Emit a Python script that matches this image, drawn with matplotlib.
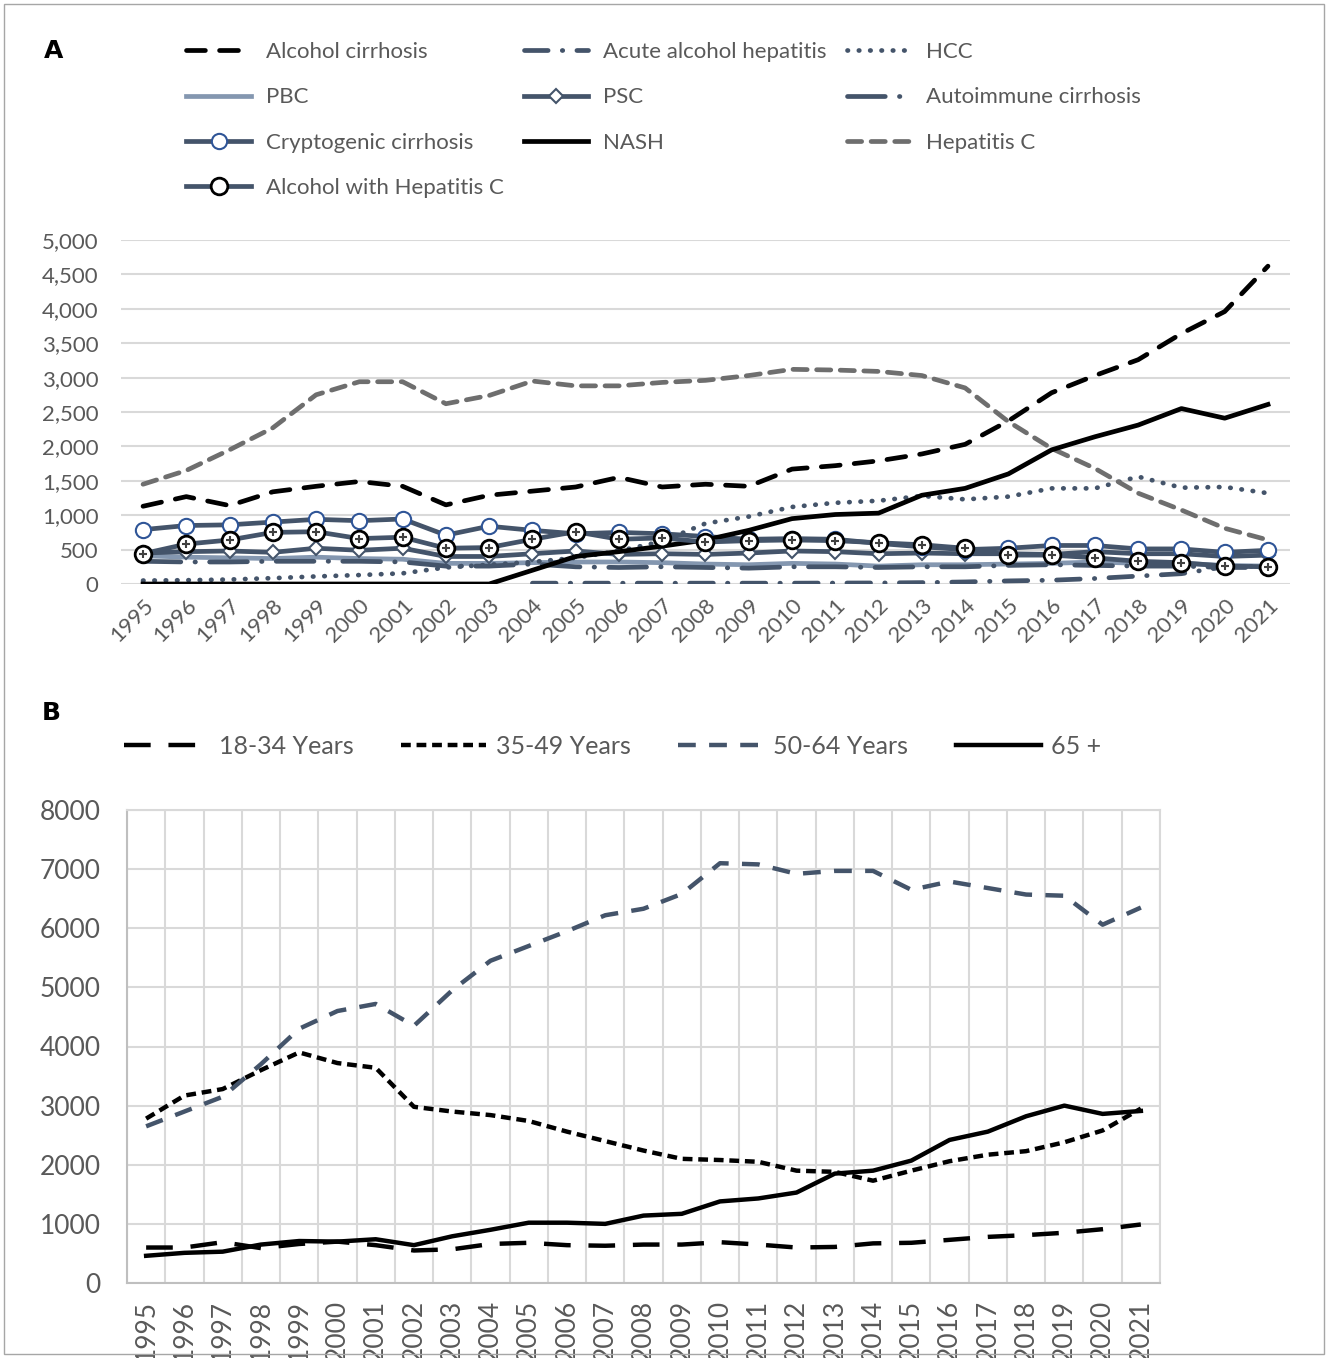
import matplotlib
matplotlib.use("Agg")
import matplotlib.pyplot as plt
import numpy as np
from matplotlib.patches import Rectangle

plt.rcParams['font.family'] = ['Lato', 'DejaVu Sans']

years = list(range(1995, 2022))

# panel A - etiologies
alcohol_cirrhosis = [1130, 1270, 1140, 1340, 1420, 1490, 1420, 1150, 1290, 1350, 1410, 1550, 1410, 1450, 1420,
                     1670, 1720, 1790, 1890, 2030, 2370, 2780, 3030, 3260, 3640, 3960, 4620]
acute_alc_hep = [np.nan] * 9 + [12, 12, 12, 12, 12, 12, 12, 14, 15, 20, 30, 45, 55, 80, 115, 150, 250, 260]
hcc = [50, 55, 65, 85, 110, 130, 155, 240, 280, 320, 380, 480, 620, 880, 980, 1120, 1180, 1210, 1280,
       1230, 1270, 1390, 1390, 1560, 1400, 1410, 1320]
pbc = [410, 390, 380, 370, 390, 370, 360, 300, 300, 310, 320, 320, 310, 290, 280, 300, 290, 260, 280,
       280, 290, 300, 320, 300, 300, 270, 260]
psc = [450, 470, 480, 460, 520, 490, 520, 400, 400, 440, 480, 430, 440, 430, 450, 480, 470, 440, 450,
       440, 440, 430, 470, 440, 440, 400, 420]
autoimmune = [330, 320, 320, 330, 330, 330, 320, 260, 260, 290, 250, 240, 250, 240, 230, 250, 250, 240,
              250, 250, 270, 280, 270, 260, 260, 240, 240]
cryptogenic = [790, 850, 860, 900, 940, 920, 945, 710, 840, 780, 730, 750, 730, 690, 650, 660, 650, 590,
               540, 500, 520, 560, 560, 510, 510, 460, 490]
nash = [0, 0, 0, 0, 0, 0, 0, 0, 0, 200, 400, 470, 550, 640, 780, 950, 1010, 1030, 1290, 1390, 1600, 1950,
        2140, 2310, 2550, 2410, 2610]
hep_c = [1450, 1650, 1950, 2270, 2750, 2940, 2940, 2620, 2740, 2950, 2880, 2880, 2930, 2960, 3030, 3120,
         3110, 3090, 3030, 2850, 2360, 1970, 1680, 1320, 1075, 810, 640]
alc_hep_c = [440, 580, 640, 750, 760, 660, 680, 520, 530, 650, 760, 650, 670, 610, 630, 640, 630, 600,
             570, 520, 420, 420, 380, 330, 310, 260, 250]

# panel B - age groups
age_18_34 = [600, 600, 690, 590, 660, 700, 640, 550, 570, 660, 680, 640, 630, 650, 650, 690, 650, 600,
             610, 670, 680, 730, 780, 810, 850, 910, 990]
age_35_49 = [2780, 3170, 3280, 3600, 3900, 3720, 3640, 2980, 2900, 2840, 2740, 2560, 2400, 2240, 2100,
             2080, 2050, 1900, 1880, 1730, 1900, 2060, 2170, 2230, 2380, 2580, 2950]
age_50_64 = [2650, 2900, 3150, 3700, 4300, 4600, 4720, 4350, 4950, 5450, 5700, 5950, 6220, 6330, 6580,
             7100, 7080, 6920, 6970, 6970, 6650, 6790, 6680, 6570, 6550, 6060, 6350]
age_65 = [460, 510, 530, 650, 710, 700, 740, 640, 790, 900, 1020, 1020, 1000, 1140, 1170, 1380, 1430,
          1530, 1850, 1900, 2070, 2420, 2560, 2820, 3000, 2860, 2910]

slate = '#44546a'
txt = '#595959'
grid = '#d9d9d9'

fig = plt.figure(figsize=(13.28, 13.58), dpi=100)
fig.patches.append(Rectangle((0.003, 0.003), 0.994, 0.994, transform=fig.transFigure,
                             fill=False, edgecolor='#a6a6a6', lw=1))

x = np.arange(len(years))

# ---------- panel A ----------
ax = fig.add_axes([121.4 / 1328, 1 - 584 / 1358, 1168.2 / 1328, 344 / 1358])
lw = 3.4
ax.plot(x, alcohol_cirrhosis, color='black', lw=lw, ls=(0, (4, 3)), dash_capstyle='round', label='Alcohol cirrhosis', zorder=5)
ax.plot(x, acute_alc_hep, color=slate, lw=lw, ls=(0, (5, 3, 0.1, 3)), dash_capstyle='round', label='Acute alcohol hepatitis', zorder=3)
ax.plot(x, hcc, color=slate, lw=lw, ls=(0, (0.1, 2.3)), dash_capstyle='round', label='HCC', zorder=4)
ax.plot(x, pbc, color='#8497b0', lw=lw, label='PBC', zorder=2)
ax.plot(x, psc, color=slate, lw=lw, marker='D', ms=7, mfc='white', mec=slate, mew=1.5, label='PSC', zorder=3)
ax.plot(x, autoimmune, color=slate, lw=lw, ls=(0, (8, 3, 0.1, 3)), dash_capstyle='round', label='Autoimmune cirrhosis', zorder=2)
ax.plot(x, cryptogenic, color=slate, lw=lw, marker='o', ms=11, mfc='white', mec='#2f5597', mew=1.5, label='Cryptogenic cirrhosis', zorder=3)
ax.plot(x, nash, color='black', lw=lw, label='NASH', zorder=5)
ax.plot(x, hep_c, color='#6e6e6e', lw=lw, ls=(0, (3, 2)), dash_capstyle='round', label='Hepatitis C', zorder=4)
ax.plot(x, alc_hep_c, color=slate, lw=lw, marker='o', ms=12, mfc='white', mec='black', mew=2, label='Alcohol with Hepatitis C', zorder=6)
ax.plot(x, alc_hep_c, ls='none', marker='+', ms=6, mec='#404040', mew=1.5, zorder=7)

ax.set_xlim(-0.5, len(years) - 0.5)
ax.set_ylim(0, 5000)
ax.set_yticks(np.arange(0, 5001, 500))
ax.set_yticklabels([f'{v:,}' for v in range(0, 5001, 500)], fontsize=16, color=txt)
ax.set_xticks(x)
ax.set_xticklabels(years, rotation=45, ha='right', rotation_mode='anchor', fontsize=16, color=txt)
ax.tick_params(length=0, axis='y', pad=16.5)
ax.tick_params(length=0, axis='x', pad=8)
ax.grid(axis='y', color=grid, lw=1.5)
ax.set_axisbelow(True)
for s in ax.spines.values():
    s.set_visible(False)

h, l = ax.get_legend_handles_labels()
order = [0, 3, 6, 9, 1, 4, 7, 2, 5, 8]
leg = ax.legend([h[i] for i in order], [l[i] for i in order], ncol=3, frameon=False, fontsize=16,
                labelcolor=txt, handlelength=2.9, handletextpad=0.68, columnspacing=0.9, labelspacing=1.14,
                loc='upper left', bbox_to_anchor=(45 / 1168.2, 1 + (240 - 22) / 344))

fig.text(44 / 1328, 1 - 51 / 1358, 'A', fontsize=18, fontweight='bold', va='center', family='DejaVu Sans')

# ---------- panel B ----------
bx = fig.add_axes([127 / 1328, 1 - 1283 / 1358, 1033 / 1328, 473 / 1358])
bx.plot(x, age_18_34, color='black', lw=3.2, ls=(0, (6, 4)), label='18-34 Years')
bx.plot(x, age_35_49, color='black', lw=3.2, ls=(0, (2.2, 1.3)), label='35-49 Years')
bx.plot(x, age_50_64, color=slate, lw=3.2, ls=(0, (4, 3)), label='50-64 Years')
bx.plot(x, age_65, color='black', lw=3.2, label='65 +')
bx.set_xlim(-0.5, len(years) - 0.5)
bx.set_ylim(0, 8000)
bx.set_yticks(np.arange(0, 8001, 1000))
bx.set_yticklabels([str(v) for v in range(0, 8001, 1000)], fontsize=19, color=txt)
bx.set_xticks(x)
bx.set_xticklabels(years, rotation=90, fontsize=19, color=txt, va='top')
bx.set_xticks(np.arange(-0.5, len(years), 1), minor=True)
bx.tick_params(which='both', length=0)
bx.tick_params(axis='y', pad=19)
bx.tick_params(axis='x', pad=12)
bx.grid(axis='y', color=grid, lw=1.5)
bx.grid(axis='x', which='minor', color=grid, lw=1.5)
bx.grid(axis='x', which='major', visible=False)
bx.set_axisbelow(True)
for s in bx.spines.values():
    s.set_color(grid)
    s.set_linewidth(1.5)
bx.spines['left'].set_color('#bfbfbf')
bx.spines['bottom'].set_color('#bfbfbf')
bx.legend(ncol=4, frameon=False, fontsize=18, labelcolor=txt, handlelength=3.4, handletextpad=0.4,
          columnspacing=1.9, loc='center left', bbox_to_anchor=(-0.025, (1283 - 746) / 473))

fig.text(42 / 1328, 1 - 713 / 1358, 'B', fontsize=18, fontweight='bold', va='center', family='DejaVu Sans')

fig.savefig('out.png', dpi=100)
